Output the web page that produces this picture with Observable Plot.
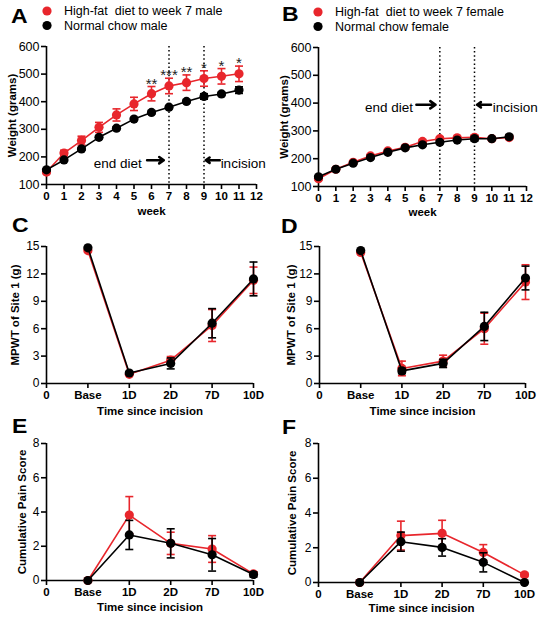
<!DOCTYPE html>
<html><head><meta charset="utf-8">
<script src="https://cdn.jsdelivr.net/npm/d3@7"></script>
<script src="https://cdn.jsdelivr.net/npm/@observablehq/plot@0.6"></script>
<style>
body{margin:0;background:#fff;font-family:"Liberation Sans",Arial,Helvetica,sans-serif}
#fig{position:relative;width:540px;height:618px;overflow:hidden;background:#fff}
.panel{position:absolute}
#overlay{position:absolute;left:0;top:0;pointer-events:none}
</style></head>
<body><div id="fig"></div>
<script>
// ---------- data ----------
const weeks = [0,1,2,3,4,5,6,7,8,9,10,11];
const weekTicks = [0,1,2,3,4,5,6,7,8,9,10,11,12];
const weightTicks = [100,200,300,400,500,600];
const dietLines = [7, 9];

const maleHF    = [145,214,259,307,352,392,429,457,469,484,492,501];
const maleHFerr = [6,10,16,18,22,24,26,28,28,28,28,28];
const maleNC    = [153,189,229,271,304,337,361,380,401,419,428,442];
const maleNCerr = [4,4,5,5,5,5,5,5,5,10,6,12];
const maleStars = ["","","","","","","**","***","**","*","*","*"];

const femaleHF    = [128,162,187,210,228,241,262,272,275,277,272,276];
const femaleHFerr = [4,4,5,5,5,5,5,6,5,8,5,6];
const femaleNC    = [135,162,184,204,223,239,250,259,267,272,272,279];
const femaleNCerr = [4,4,4,4,4,4,4,5,4,8,4,6];

const timeLabels = ["0","Base","1D","2D","7D","10D"];
const timePos = [1,2,3,4,5];
const timeTicks = [0,1,2,3,4,5];
const mpwtTicks = [0,3,6,9,12,15];
const painTicks = [0,2,4,6,8];

const mpwtMaleHF    = [14.55,1.0,2.55,6.35,11.3];
const mpwtMaleHFerr = [0.15,0.1,0.4,1.75,1.45];
const mpwtMaleNC    = [14.85,1.15,2.2,6.6,11.45];
const mpwtMaleNCerr = [0.1,0.15,0.6,1.6,1.85];

const mpwtFemaleHF    = [14.35,1.65,2.45,6.0,11.1];
const mpwtFemaleHFerr = [0.1,0.8,0.65,1.7,1.9];
const mpwtFemaleNC    = [14.55,1.38,2.2,6.25,11.55];
const mpwtFemaleNCerr = [0.1,0.3,0.45,1.55,1.3];

const painMaleHF    = [0,3.82,2.17,1.84,0.39];
const painMaleHFerr = [0,1.08,0.65,0.78,0.1];
const painMaleNC    = [0,2.66,2.17,1.5,0.35];
const painMaleNCerr = [0,0.85,0.85,0.95,0.15];

const painFemaleHF    = [0,2.7,2.83,1.73,0.44];
const painFemaleHFerr = [0,0.83,0.75,0.45,0.1];
const painFemaleNC    = [0,2.35,2.02,1.16,0];
const painFemaleNCerr = [0,0.55,0.5,0.55,0];

const annotA = {endDiet:{x:5.45,y:176}, incision:{x:9.95,y:176}};
const arrowsA = [{x1:5.75,x2:6.7,y:188},{x1:9.9,x2:9.1,y:188}];
const annotB = {endDiet:{x:5.45,y:384}, incision:{x:10.05,y:384}};
const arrowsB = [{x1:5.65,x2:6.75,y:394},{x1:9.95,x2:9.15,y:394}];

// ---------- styling ----------
const RED = "#e8262c";
const BLACK = "#000";
const FONT = "'Liberation Sans', Arial, Helvetica, sans-serif";
const cap = {draw(ctx, size){const w = Math.sqrt(size/Math.PI); ctx.moveTo(-w,0); ctx.lineTo(w,0);}};

function rows(xs, ys, es){ return xs.map((x,i)=>({x, y: ys[i], e: es[i]})); }

function series(data, color){
  const eb = data.filter(d => d.e > 0);
  return [
    Plot.line(data, {x:"x", y:"y", stroke:color, strokeWidth:1.6}),
    Plot.ruleX(eb, {x:"x", y1:d=>d.y-d.e, y2:d=>d.y+d.e, stroke:color, strokeWidth:1.6}),
    Plot.dot(eb, {x:"x", y:d=>d.y+d.e, symbol:cap, r:4, stroke:color, strokeWidth:1.6}),
    Plot.dot(eb, {x:"x", y:d=>d.y-d.e, symbol:cap, r:4, stroke:color, strokeWidth:1.6}),
    Plot.dot(data, {x:"x", y:"y", r:4.6, fill:color})
  ];
}

function panel(o){
  const chart = Plot.plot({
    width:o.width, height:o.height,
    marginLeft:o.ml, marginRight:o.mr, marginTop:o.mt, marginBottom:o.mb,
    style:{fontFamily:FONT, fontSize:"12px", color:"#000", background:"transparent", overflow:"visible"},
    x:{domain:o.xDomain}, y:{domain:o.yDomain},
    marks:[
      ...(o.pre || []),
      Plot.ruleY([o.yDomain[0]], {strokeWidth:1.6}),
      Plot.ruleX([o.xDomain[0]], {strokeWidth:1.6}),
      Plot.axisX({ticks:o.xTicks, tickFormat:o.xFormat, tickSize:5, tickPadding:2, fontWeight:"bold", fontSize:o.xFont || 11.5, label:null, strokeWidth:1.6}),
      Plot.axisY({ticks:o.yTicks, tickSize:5, tickPadding:2, fontSize:o.yFont || 12, label:null, strokeWidth:1.6}),
      Plot.text([o.xLabel], {text:d=>d, frameAnchor:"bottom", lineAnchor:"middle", textAnchor:"middle", dy:o.xLabelDy, fontWeight:"bold", fontSize:11.5}),
      Plot.text([o.yLabel], {text:d=>d, frameAnchor:"left", lineAnchor:"middle", textAnchor:"middle", rotate:-90, dx:-o.yLabelDx, fontWeight:"bold", fontSize:11.5}),
      ...o.marks
    ]
  });
  const div = document.createElement("div");
  div.className = "panel";
  div.style.left = o.left + "px";
  div.style.top = o.top + "px";
  div.appendChild(chart);
  document.getElementById("fig").appendChild(div);
}

function weightMarks(hf, nc, annot, arrows, stars){
  const m = [
    Plot.ruleX(dietLines, {strokeDasharray:"1.5,2.6", strokeWidth:1.5}),
    Plot.text([annot.endDiet], {x:"x", y:"y", text:()=> "end diet", textAnchor:"end", fontSize:13.5}),
    Plot.text([annot.incision], {x:"x", y:"y", text:()=> "incision", textAnchor:"start", fontSize:13.5}),
    Plot.arrow(arrows, {x1:"x1", x2:"x2", y1:"y", y2:"y", strokeWidth:2.6, headLength:7, headAngle:70}),
    ...series(hf, RED),
    ...series(nc, BLACK)
  ];
  if (stars) m.push(Plot.text(hf.map((d,i)=>({...d, s:stars[i]})).filter(d=>d.s), {x:"x", y:d=>d.y+d.e, text:"s", lineAnchor:"bottom", dy:2, fontSize:15, fill:"#222"}));
  return m;
}

// Panel A
panel({left:0, top:0, width:270, height:220, ml:46, mr:14, mt:46, mb:36,
  xDomain:[0,12], xTicks:weekTicks, xFormat:d=>d, yDomain:[100,600], yTicks:weightTicks,
  xLabel:"week", xLabelDy:27, yLabel:"Weight (grams)", yLabelDx:34, yFont:12.5,
  marks:weightMarks(rows(weeks,maleHF,maleHFerr), rows(weeks,maleNC,maleNCerr), annotA, arrowsA, maleStars)});
// Panel B
panel({left:270, top:0, width:270, height:220, ml:48, mr:14, mt:47, mb:34,
  xDomain:[0,12], xTicks:weekTicks, xFormat:d=>d, yDomain:[100,600], yTicks:weightTicks,
  xLabel:"week", xLabelDy:26, yLabel:"Weight (grams)", yLabelDx:34, yFont:12.5,
  marks:weightMarks(rows(weeks,femaleHF,femaleHFerr), rows(weeks,femaleNC,femaleNCerr), annotB, arrowsB, null)});
// Panel C
panel({left:0, top:220, width:270, height:198, ml:46, mr:17, mt:26, mb:35,
  xDomain:[0,5], xTicks:timeTicks, xFormat:i=>timeLabels[i], yDomain:[0,15], yTicks:mpwtTicks,
  xLabel:"Time since incision", xLabelDy:28, yLabel:"MPWT of Site 1 (g)", yLabelDx:31, yFont:12,
  marks:[...series(rows(timePos,mpwtMaleHF,mpwtMaleHFerr), RED), ...series(rows(timePos,mpwtMaleNC,mpwtMaleNCerr), BLACK)]});
// Panel D
panel({left:270, top:220, width:270, height:198, ml:49, mr:15, mt:26, mb:35,
  xDomain:[0,5], xTicks:timeTicks, xFormat:i=>timeLabels[i], yDomain:[0,15], yTicks:mpwtTicks,
  xLabel:"Time since incision", xLabelDy:28, yLabel:"MPWT of Site 1 (g)", yLabelDx:28, yFont:12,
  marks:[...series(rows(timePos,mpwtFemaleHF,mpwtFemaleHFerr), RED), ...series(rows(timePos,mpwtFemaleNC,mpwtFemaleNCerr), BLACK)]});
// Panel E
panel({left:0, top:418, width:270, height:200, ml:46, mr:17, mt:25, mb:38,
  xDomain:[0,5], xTicks:timeTicks, xFormat:i=>timeLabels[i], yDomain:[0,8], yTicks:painTicks,
  xLabel:"Time since incision", xLabelDy:27, yLabel:"Cumulative Pain Score", yLabelDx:24, yFont:12,
  marks:[...series(rows(timePos,painMaleHF,painMaleHFerr), RED), ...series(rows(timePos,painMaleNC,painMaleNCerr), BLACK)]});
// Panel F
panel({left:270, top:418, width:270, height:200, ml:48, mr:16, mt:25, mb:36,
  xDomain:[0,5], xTicks:timeTicks, xFormat:i=>timeLabels[i], yDomain:[0,8], yTicks:painTicks,
  xLabel:"Time since incision", xLabelDy:26, yLabel:"Cumulative Pain Score", yLabelDx:26, yFont:12,
  marks:[...series(rows(timePos,painFemaleHF,painFemaleHFerr), RED), ...series(rows(timePos,painFemaleNC,painFemaleNCerr), BLACK)]});

// ---------- overlay: panel letters + legends ----------
const letters = [
  {t:"A", x:11, y:23}, {t:"B", x:282, y:21}, {t:"C", x:12, y:232},
  {t:"D", x:281, y:233}, {t:"E", x:12, y:433}, {t:"F", x:282, y:434}
];
const legends = [
  {x:47, y:11, color:RED, label:"High-fat  diet to week 7 male"},
  {x:47, y:25.5, color:BLACK, label:"Normal chow male"},
  {x:318, y:12, color:RED, label:"High-fat  diet to week 7 female"},
  {x:318, y:26.5, color:BLACK, label:"Normal chow female"}
];
const svg = d3.select("#fig").append("svg").attr("id","overlay").attr("width",540).attr("height",618)
  .style("font-family", FONT);
svg.selectAll("text.letter").data(letters).join("text").attr("class","letter")
  .attr("x",d=>d.x).attr("y",d=>d.y).attr("font-size",20).attr("font-weight","bold")
  .attr("transform",d=>`translate(${d.x},0) scale(1.15,1) translate(${-d.x},0)`).text(d=>d.t);
svg.selectAll("circle.leg").data(legends).join("circle").attr("class","leg")
  .attr("cx",d=>d.x).attr("cy",d=>d.y).attr("r",4.6).attr("fill",d=>d.color);
svg.selectAll("text.leg").data(legends).join("text").attr("class","leg")
  .attr("x",d=>d.x+17).attr("y",d=>d.y).attr("dy","0.35em").attr("font-size",12.5)
  .style("white-space","pre").text(d=>d.label);
</script></body></html>
